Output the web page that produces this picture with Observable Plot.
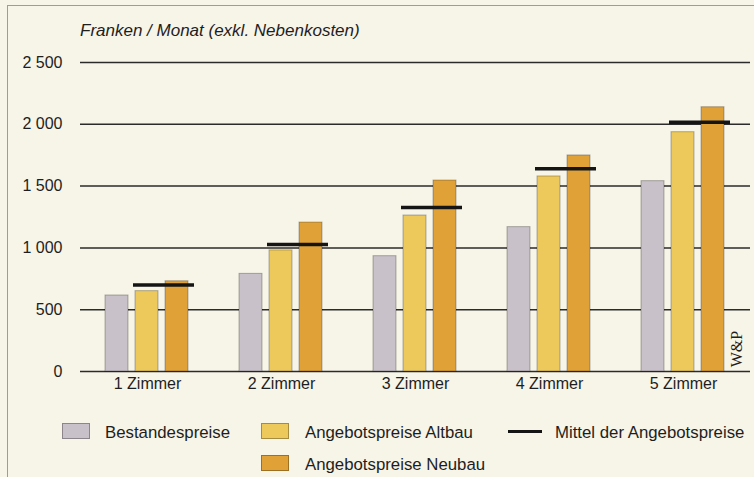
<!DOCTYPE html>
<html><head><meta charset="utf-8">
<script src="https://cdn.jsdelivr.net/npm/d3@7"></script>
<script src="https://cdn.jsdelivr.net/npm/@observablehq/plot@0.6"></script>
<style>
html,body{margin:0;padding:0;background:#f7f4e8;}
#wrap{position:relative;width:754px;height:477px;overflow:hidden;background:#f7f4e8;font-family:"Liberation Sans",Arial,Helvetica,sans-serif;color:#1e1e1e;}
#frame{position:absolute;left:7px;top:5px;width:760px;height:480px;border-left:1.5px solid #9c9c9c;border-top:1.5px solid #9c9c9c;}
#title{position:absolute;left:80px;top:22px;font-size:17px;line-height:17px;font-style:italic;white-space:nowrap;}
.layer{position:absolute;left:0;top:45px;}
#wp{position:absolute;left:737px;top:349px;transform:translate(-50%,-50%) rotate(-90deg);font-family:"Liberation Serif","DejaVu Serif",serif;font-size:16px;line-height:16px;white-space:nowrap;}
.sw{position:absolute;width:26px;height:14px;border:1px solid rgba(0,0,0,0.3);}
.ln{position:absolute;width:34px;height:3.5px;background:#151515;}
.lt{position:absolute;font-size:16.8px;line-height:16px;white-space:nowrap;}
</style></head><body>
<div id="wrap">
  <div id="frame"></div>
  <div id="title"></div>
  <div id="back" class="layer"></div>
  <div id="front" class="layer"></div>
  <div id="wp">W&amp;P</div>
  <div id="legend"></div>
</div>
<script>
// ---- data ----
const zimmer = ["1 Zimmer", "2 Zimmer", "3 Zimmer", "4 Zimmer", "5 Zimmer"];
const seriesNames = ["Bestandespreise", "Angebotspreise Altbau", "Angebotspreise Neubau"];
const meanName = "Mittel der Angebotspreise";
const bestand = [615, 790, 933, 1168, 1540];
const altbau  = [650, 980, 1262, 1578, 1936];
const neubau  = [730, 1205, 1545, 1748, 2138];
const mittel  = [700, 1027, 1327, 1640, 2017];
const yTicks = [0, 500, 1000, 1500, 2000, 2500];
const yTickLabels = ["0", "500", "1 000", "1 500", "2 000", "2 500"];
const titleText = "Franken / Monat (exkl. Nebenkosten)";

// ---- styles ----
const fills = ["#c9c1c9", "#edc95c", "#e0a236"];
const font = '"Liberation Sans", Arial, Helvetica, sans-serif';

// ---- table ----
const seriesValues = [bestand, altbau, neubau];
const table = [];
zimmer.forEach((z, i) => {
  seriesNames.forEach((s, j) => table.push({zimmer: z, series: s, value: seriesValues[j][i]}));
  table.push({zimmer: z, series: meanName, value: mittel[i]});
});

document.getElementById("title").textContent = titleText;

const common = {
  width: 754, height: 356,
  marginLeft: 80, marginRight: 4, marginTop: 17, marginBottom: 30,
  style: {background: "transparent", fontSize: "16px", fontFamily: font, color: "#1e1e1e", overflow: "visible"}
};

// background: gridlines + y axis
const back = Plot.plot({
  ...common,
  x: {axis: null},
  y: {domain: [0, 2500], ticks: yTicks, tickFormat: d => yTickLabels[yTicks.indexOf(d)], tickSize: 0, tickPadding: 18, label: null},
  marks: [
    Plot.ruleY(yTicks, {stroke: "#2b2b2b", strokeWidth: 1.5})
  ]
});
document.getElementById("back").appendChild(back);

// foreground: grouped bars + mean rules
const front = Plot.plot({
  ...common,
  facet: {data: table, x: "zimmer"},
  fx: {domain: zimmer, paddingInner: 0.31, paddingOuter: 0.141, axis: "bottom", tickSize: 0, tickPadding: 6, label: null},
  x: {domain: seriesNames, paddingInner: 0.23, paddingOuter: 0.115, axis: null},
  y: {domain: [0, 2500], axis: null},
  color: {domain: seriesNames, range: fills},
  marks: [
    Plot.barY(table, {filter: d => d.series !== meanName, x: "series", y: "value", fill: "series", stroke: "#000", strokeOpacity: 0.28, strokeWidth: 1}),
    Plot.ruleY(table, {filter: d => d.series === meanName, y: "value", x1: () => seriesNames[1], x2: () => seriesNames[2], stroke: "#151515", strokeWidth: 3.5, insetLeft: -2, insetRight: -6})
  ]
});
document.getElementById("front").appendChild(front);

// legend
const legendItems = [
  {label: seriesNames[0], kind: "sw", color: fills[0]},
  {label: seriesNames[1], kind: "sw", color: fills[1]},
  {label: meanName, kind: "ln"},
  {label: seriesNames[2], kind: "sw", color: fills[2]}
];
const legendLayout = [
  {mx: 62, tx: 105, y: 423},
  {mx: 261, tx: 305, y: 423},
  {mx: 508, tx: 555, y: 423},
  {mx: 261, tx: 305, y: 455}
];
const leg = document.getElementById("legend");
legendItems.forEach((it, k) => {
  const L = legendLayout[k];
  const m = document.createElement("div");
  m.className = it.kind;
  m.style.left = L.mx + "px";
  if (it.kind === "sw") { m.style.top = L.y + "px"; m.style.background = it.color; }
  else { m.style.top = (L.y + 6.5) + "px"; }
  leg.appendChild(m);
  const t = document.createElement("div");
  t.className = "lt";
  t.style.left = L.tx + "px";
  t.style.top = (L.y + 1.5) + "px";
  t.textContent = it.label;
  leg.appendChild(t);
});
</script>
</body></html>
